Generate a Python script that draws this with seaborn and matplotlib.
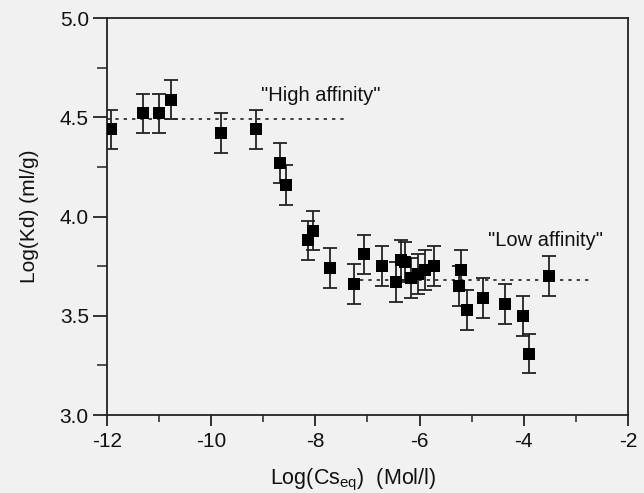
import numpy as np
import pandas as pd
import seaborn as sns
import matplotlib.pyplot as plt
from matplotlib.ticker import MultipleLocator

# Data
log_cs = [-11.93, -11.30, -11.00, -10.77, -9.81, -9.13, -8.67, -8.56, -8.14, -8.05,
          -7.72, -7.26, -7.07, -6.72, -6.46, -6.36, -6.27, -6.17, -6.02, -5.90,
          -5.73, -5.21, -5.24, -5.08, -4.78, -4.35, -4.01, -3.89, -3.52]
log_kd = [4.44, 4.52, 4.52, 4.59, 4.42, 4.44, 4.27, 4.16, 3.88, 3.93,
          3.74, 3.66, 3.81, 3.75, 3.67, 3.78, 3.77, 3.69, 3.71, 3.73,
          3.75, 3.73, 3.65, 3.53, 3.59, 3.56, 3.50, 3.31, 3.70]
kd_err = [0.1] * len(log_kd)

high_x = [-12.0, -7.45]
high_y = [4.49, 4.49]
low_x = [-7.15, -2.7]
low_y = [3.68, 3.68]

df = pd.DataFrame({"cs": log_cs, "kd": log_kd, "err": kd_err})

sns.set_style("ticks")
plt.rcParams["font.family"] = ["Liberation Sans", "DejaVu Sans"]
bg = "#f1f1f1"
ink = "#222222"

fig = plt.figure(figsize=(6.44, 4.93), dpi=100, facecolor=bg)
ax = fig.add_axes([0.166, 0.158, 0.809, 0.805])
ax.set_facecolor(bg)

ax.errorbar(df["cs"], df["kd"], yerr=df["err"], fmt="none", ecolor=ink,
            elinewidth=1.3, capsize=5, capthick=1.3, zorder=2)
sns.scatterplot(data=df, x="cs", y="kd", marker="s", s=85, color="black",
                edgecolor="black", linewidth=0, ax=ax, zorder=3)

ax.plot(high_x, high_y, linestyle=(0, (2, 3)), color=ink, lw=1.2)
ax.plot(low_x, low_y, linestyle=(0, (2, 3)), color=ink, lw=1.2)

ax.text(-9.05, 4.61, '"High affinity"', fontsize=14.5, va="center", ha="left", color="#111111")
ax.text(-4.68, 3.88, '"Low affinity"', fontsize=14.5, va="center", ha="left", color="#111111")

ax.set_xlim(-12, -2)
ax.set_ylim(3.0, 5.0)
ax.xaxis.set_minor_locator(MultipleLocator(1))
ax.yaxis.set_major_locator(MultipleLocator(0.5))
ax.yaxis.set_minor_locator(MultipleLocator(0.25))
ax.yaxis.set_major_formatter(plt.FormatStrFormatter("%.1f"))
ax.set_xticks([-12, -10, -8, -6, -4, -2], ["-12", "-10", "-8", "-6", "-4", "-2"])

ax.tick_params(which="major", direction="out", length=8, width=1.3, labelsize=15,
               color=ink, labelcolor="#111111", pad=4)
ax.tick_params(which="minor", direction="out", length=5, width=1.1, color=ink)
ax.tick_params(axis="y", which="major", length=10, pad=3)
ax.tick_params(axis="y", which="minor", length=7)
for s in ax.spines.values():
    s.set_visible(True)
    s.set_linewidth(1.3)
    s.set_color(ink)

ax.set_xlabel(r"Log(Cs$_{\mathregular{eq}}$)  (Mol/l)", fontsize=15.5, color="#111111", labelpad=10)
ax.set_ylabel("Log(Kd) (ml/g)", fontsize=15, color="#111111", labelpad=15)
ax.xaxis.set_label_coords(0.473, -0.13)

fig.savefig("out.png", dpi=100, facecolor=bg)
